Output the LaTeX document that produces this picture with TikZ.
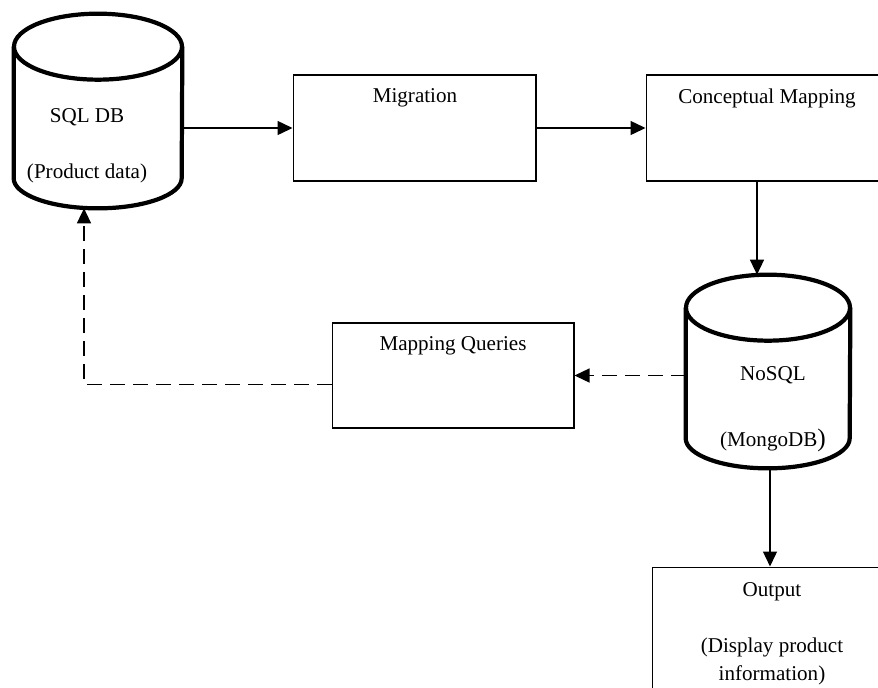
\documentclass[tikz,border=0pt]{standalone}
\usepackage{fontspec}
\setmainfont{Liberation Serif}
\usetikzlibrary{shapes.geometric, positioning, calc, arrows.meta}
\tikzstyle{dbcyl} = [rectangle, inner sep=0pt,
minimum width=3.36cm, minimum height=3.88cm]
\tikzstyle{dbline} = [line width=2.4pt]
\tikzstyle{stepbox} = [draw, rectangle, line width=0.6pt,
inner sep=0pt]
\tikzstyle{boxtext} = [font=\fontsize{12}{16}\selectfont,
align=center, inner sep=0pt]
\tikzstyle{flow} = [line width=0.8pt,
-{Triangle[length=0.3cm, width=0.28cm]}]
\tikzstyle{backflow} = [flow, dash pattern=on 0.3cm off 0.16cm]
% outline of a database drum round a placeholder node (#2 = half width)
\newcommand{\drawdb}[2]{%
	\draw[dbline] ($(#1.north)+(0,33)$) ellipse [x radius=#2, y radius=33];
	\draw[dbline] ($(#1.north west)+(0,33)$) -- ($(#1.south west)+(0,-30)$)
		arc[start angle=180, end angle=0, x radius=#2, y radius=30]
		-- ($(#1.north east)+(0,33)$);
}

\begin{document}
\begin{tikzpicture}[x=0.02cm, y=-0.02cm]
	\useasboundingbox (0,0) rectangle (878,687);
	\clip (0,0) rectangle (878,687);
	\coordinate (a) at (98, 111);
	\coordinate (b) at (414.5, 128);
	\coordinate (c) at (767, 128);
	\coordinate (d) at (768, 371.5);
	\coordinate (e) at (453, 375.5);
	\coordinate (f) at (772, 643.5);
	%% Databases
	\node[dbcyl](sql) at (a) {};
	\drawdb{sql}{84}
	\node[boxtext](sqlname) at (87, 117) {SQL DB};
	\node[boxtext](sqldata) at (87, 173) {(Product data)};
	\node[dbcyl, minimum width=3.28cm, minimum height=3.86cm](nosql) at (d) {};
	\drawdb{nosql}{82}
	\node[boxtext](nosqlname) at (773, 375) {NoSQL};
	\node[boxtext](nosqldata) at (773, 440) {(MongoDB{\Large )}};
	%% Steps
	\node[stepbox, minimum width=4.86cm, minimum height=2.12cm](mig) at (b) {};
	\node[boxtext](migtitle) at (415, 98) {Migration};
	\node[stepbox, minimum width=4.84cm, minimum height=2.12cm](cm) at (c) {};
	\node[boxtext](cmtitle) at (767, 98) {Conceptual Mapping};
	\node[stepbox, minimum width=4.84cm, minimum height=2.1cm](mq) at (e) {};
	\node[boxtext](mqtitle) at (453, 346) {Mapping Queries};
	\node[stepbox, minimum width=4.8cm, minimum height=3.06cm](out) at (f) {};
	\node[boxtext](outtitle) at (772, 592) {Output};
	\node[boxtext](outtext) at (772, 661) {(Display product\\information)};
	%% Forward flow
	\coordinate (cmout) at ($(cm.south)+(-10,0)$);
	\coordinate (nosqlout) at ($(nosql.south)+(2,0)$);
	\draw[flow] (mig.west -| sql.east) -- (mig.west);
	\draw[flow] (mig.east) -- (cm.west);
	\draw[flow] (cmout) -- (cmout |- nosql.north);
	\draw[flow] (nosqlout) -- (nosqlout |- out.north);
	%% Back to the SQL side
	\coordinate (mqout) at ($(mq.west)+(0,9)$);
	\draw[backflow] (nosql.west |- mq.east) -- (mq.east);
	\draw[backflow] (mqout) -| ($(sql.south)+(-14,0)$);
\end{tikzpicture}
\end{document}
